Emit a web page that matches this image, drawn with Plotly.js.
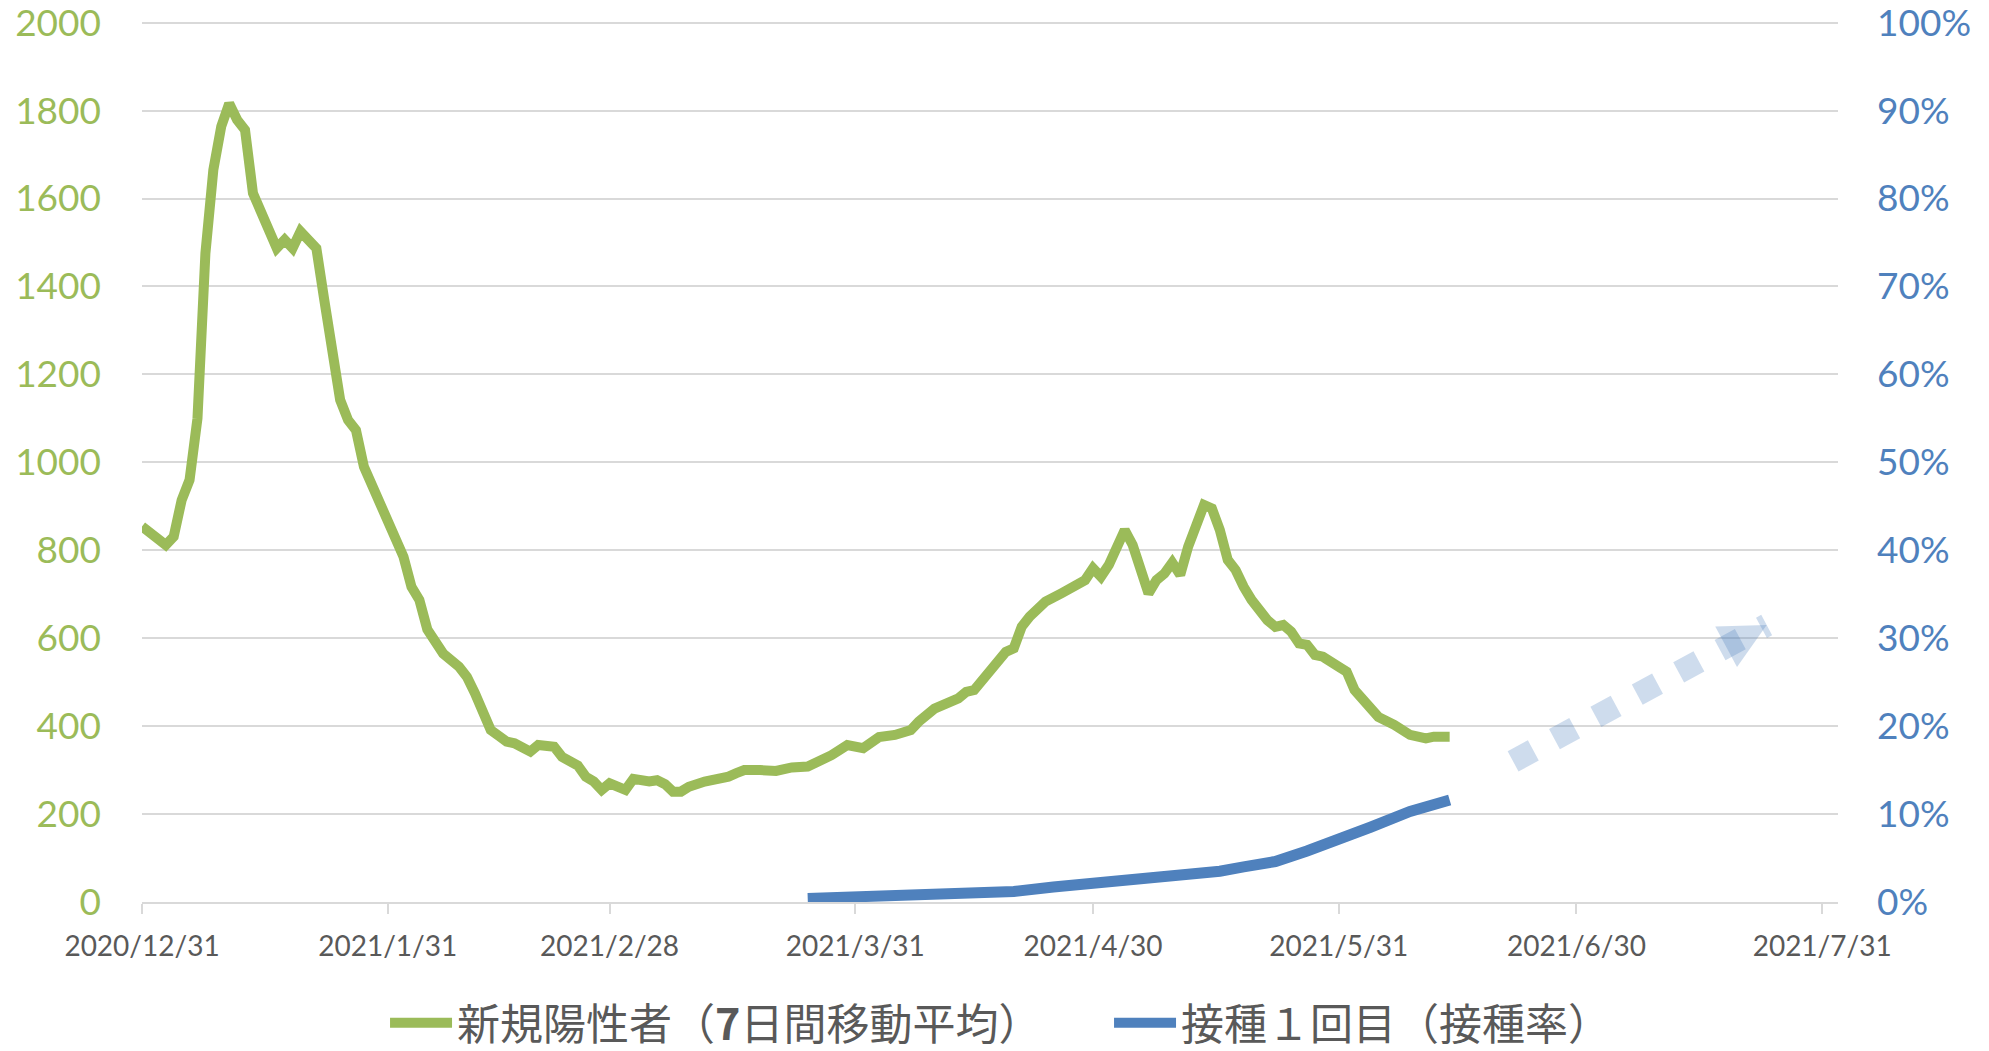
<!DOCTYPE html>
<html>
<head>
<meta charset="utf-8">
<script src="https://cdn.plot.ly/plotly-3.0.1.min.js"></script>
<style>
html,body{margin:0;padding:0;background:#fff;}
#chart{width:1989px;height:1051px;}
</style>
</head>
<body>
<div id="chart"></div>
<script>
// ---- data ----
const caseDates = [
 '2020-12-31','2021-01-01','2021-01-03','2021-01-04','2021-01-05','2021-01-06','2021-01-07','2021-01-08',
 '2021-01-09','2021-01-10','2021-01-11','2021-01-12','2021-01-13','2021-01-14','2021-01-15','2021-01-17',
 '2021-01-18','2021-01-19','2021-01-20','2021-01-21','2021-01-22','2021-01-23','2021-01-24','2021-01-25',
 '2021-01-26','2021-01-27','2021-01-28','2021-02-01','2021-02-02','2021-02-03','2021-02-04','2021-02-05',
 '2021-02-06','2021-02-07','2021-02-09','2021-02-10','2021-02-11','2021-02-12','2021-02-13','2021-02-14',
 '2021-02-15','2021-02-16','2021-02-18','2021-02-19','2021-02-21','2021-02-22','2021-02-24','2021-02-25',
 '2021-02-26','2021-02-27','2021-02-28','2021-03-02','2021-03-03','2021-03-05','2021-03-06','2021-03-07',
 '2021-03-08','2021-03-09','2021-03-10','2021-03-12','2021-03-13','2021-03-15','2021-03-16','2021-03-17',
 '2021-03-19','2021-03-21','2021-03-23','2021-03-25','2021-03-28','2021-03-30','2021-04-01','2021-04-03',
 '2021-04-05','2021-04-07','2021-04-08','2021-04-10','2021-04-13','2021-04-14','2021-04-15','2021-04-16',
 '2021-04-17','2021-04-19','2021-04-20','2021-04-21','2021-04-22','2021-04-24','2021-04-26','2021-04-28',
 '2021-04-29','2021-04-30','2021-05-01','2021-05-02','2021-05-04','2021-05-05','2021-05-06','2021-05-07',
 '2021-05-08','2021-05-09','2021-05-10','2021-05-11','2021-05-12','2021-05-14','2021-05-15','2021-05-16',
 '2021-05-17','2021-05-18','2021-05-19','2021-05-20','2021-05-22','2021-05-23','2021-05-24','2021-05-25',
 '2021-05-26','2021-05-27','2021-05-28','2021-05-29','2021-05-31','2021-06-01','2021-06-02','2021-06-04',
 '2021-06-05','2021-06-07','2021-06-08','2021-06-09','2021-06-11','2021-06-12','2021-06-14'
];
const newCases7dAvg = [
 854,840,812,831,914,960,1100,1475,
 1665,1764,1816,1779,1756,1612,1567,1487,
 1506,1487,1525,1502,1487,1369,1256,1142,
 1096,1073,990,823,785,717,687,620,
 595,565,535,512,475,437,391,378,
 365,361,342,357,353,330,310,285,
 274,255,270,255,280,274,277,268,
 251,251,262,274,277,285,293,300,
 300,298,306,308,334,357,350,375,
 380,391,410,440,463,478,482,505,
 528,569,577,626,649,683,702,721,
 732,759,740,767,846,812,763,702,
 732,747,772,744,808,903,895,846,
 778,755,717,687,641,626,630,615,
 588,585,562,558,535,524,482,444,
 421,403,391,380,372,376,376
];

const vaccDates = [
 '2021-03-25','2021-04-07','2021-04-20','2021-04-25','2021-05-01','2021-05-06','2021-05-11','2021-05-16',
 '2021-05-19','2021-05-23','2021-05-27','2021-05-31','2021-06-04','2021-06-09','2021-06-14'
];
const firstDoseRate = [
 0.004,0.008,0.012,0.017,0.022,0.026,0.030,0.035,
 0.040,0.046,0.058,0.070,0.085,0.103,0.116
];

// projection arrow (decorative): tail and tip
const arrowDates = ['2021-06-22','2021-07-24'];
const arrowRate  = [0.160, 0.315];

const tickDates  = ['2020-12-31','2021-01-31','2021-02-28','2021-03-31','2021-04-30','2021-05-31','2021-06-30','2021-07-31'];
const tickLabels = ['2020/12/31','2021/1/31','2021/2/28','2021/3/31','2021/4/30','2021/5/31','2021/6/30','2021/7/31'];

const nameCases = '新規陽性者（<b>7</b>日間移動平均）';
const nameVacc  = '接種１回目（接種率）';

const GREEN = '#9BBB59', BLUE = '#4F81BD', GRID = '#D9D9D9', TXT = '#595959';
const ARROW = 'rgba(79,129,189,0.28)';
const LATIN = 'Lato, "Noto Sans", sans-serif';

const traces = [
  {
    type:'scatter', mode:'lines', name:nameCases,
    x:caseDates, y:newCases7dAvg, yaxis:'y',
    line:{color:GREEN, width:10}, hoverinfo:'skip'
  },
  {
    type:'scatter', mode:'lines', name:nameVacc,
    x:vaccDates, y:firstDoseRate, yaxis:'y2',
    line:{color:BLUE, width:11}, hoverinfo:'skip'
  },
  {
    type:'scatter', mode:'lines', showlegend:false,
    x:arrowDates, y:arrowRate, yaxis:'y2',
    opacity:0.28,
    line:{color:BLUE, width:23, dash:'23px,24px', backoff:46},
    hoverinfo:'skip'
  }
];

const layout = {
  width:1989, height:1051,
  margin:{l:142, r:151, t:20, b:149, autoexpand:false},
  paper_bgcolor:'#fff', plot_bgcolor:'#fff',
  showlegend:true,
  legend:{
    orientation:'h', x:0.1433, xanchor:'left', y:-0.137, yanchor:'middle',
    font:{family:'"Noto Sans CJK JP", sans-serif', size:43, color:TXT},
    entrywidth:647, entrywidthmode:'pixels',
    itemwidth:62
  },
  annotations:[{
    x:arrowDates[1], y:arrowRate[1], xref:'x', yref:'y2',
    text:'', showarrow:true, arrowhead:2, arrowsize:46, arrowwidth:0.2,
    arrowcolor:ARROW, ax:-33.5, ay:18, standoff:0
  }],
  xaxis:{
    type:'date', range:['2020-12-31','2021-08-02'],
    tickvals:tickDates, ticktext:tickLabels,
    showgrid:false, zeroline:false,
    showline:true, linecolor:GRID, linewidth:2,
    ticks:'outside', ticklen:10, tickwidth:2, tickcolor:GRID,
    ticklabelstandoff:8, ticklabeloverflow:'allow',
    tickfont:{family:LATIN, size:28, color:TXT}
  },
  yaxis:{
    range:[0,2006], dtick:200, tick0:0,
    showgrid:true, gridcolor:GRID, gridwidth:2,
    zeroline:false, showline:false, ticks:'',
    ticklabelstandoff:40, ticklabeloverflow:'allow',
    tickfont:{family:LATIN, size:37, color:GREEN}
  },
  yaxis2:{
    overlaying:'y', side:'right',
    range:[0,1.003], dtick:0.1, tick0:0, tickformat:'.0%',
    showgrid:false, zeroline:false, showline:false, ticks:'',
    ticklabelstandoff:38, ticklabeloverflow:'allow',
    tickfont:{family:LATIN, size:37, color:BLUE}
  }
};

Plotly.newPlot('chart', traces, layout, {staticPlot:true, displayModeBar:false});
</script>
</body>
</html>
